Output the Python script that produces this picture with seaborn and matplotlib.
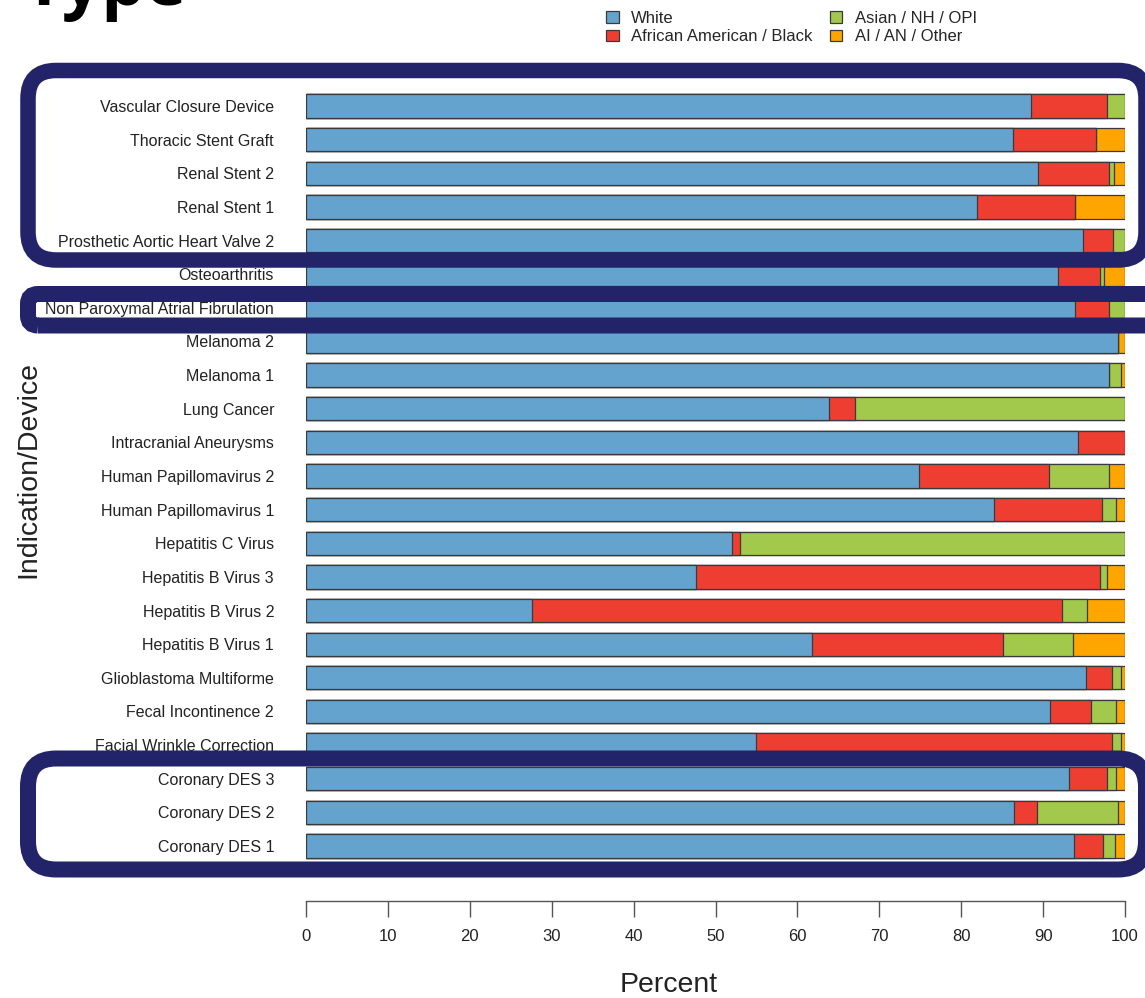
import matplotlib
matplotlib.use("Agg")
import matplotlib.pyplot as plt
import matplotlib.transforms as mtransforms
from matplotlib.patches import FancyBboxPatch, Patch
import numpy as np
import pandas as pd
import seaborn as sns

# Indication / device categories, top to bottom
categories = [
    "Vascular Closure Device", "Thoracic Stent Graft", "Renal Stent 2", "Renal Stent 1",
    "Prosthetic Aortic Heart Valve 2", "Osteoarthritis", "Non Paroxymal Atrial Fibrulation",
    "Melanoma 2", "Melanoma 1", "Lung Cancer", "Intracranial Aneurysms",
    "Human Papillomavirus 2", "Human Papillomavirus 1", "Hepatitis C Virus",
    "Hepatitis B Virus 3", "Hepatitis B Virus 2", "Hepatitis B Virus 1",
    "Glioblastoma Multiforme", "Fecal Incontinence 2", "Facial Wrinkle Correction",
    "Coronary DES 3", "Coronary DES 2", "Coronary DES 1",
]

# Percent of participants by race group
white = [88.5, 86.3, 89.4, 81.9, 94.9, 91.8, 93.9, 99.2, 98.0, 63.9, 94.3,
         74.8, 84.0, 52.0, 47.6, 27.6, 61.8, 95.2, 90.9, 54.9, 93.2, 86.5, 93.8]
black = [9.3, 10.1, 8.6, 12.0, 3.6, 5.2, 4.1, 0.0, 0.1, 3.1, 5.7,
         15.9, 13.2, 1.0, 49.4, 64.7, 23.3, 3.2, 5.0, 43.5, 4.6, 2.7, 3.5]
asian = [2.2, 0.0, 0.7, 0.0, 1.5, 0.4, 2.0, 0.0, 1.4, 33.0, 0.0,
         7.4, 1.7, 47.0, 0.8, 3.0, 8.5, 1.1, 3.0, 1.1, 1.1, 10.0, 1.5]
other = [0.0, 3.6, 1.3, 6.1, 0.0, 2.6, 0.0, 0.8, 0.5, 0.0, 0.0,
         1.9, 1.1, 0.0, 2.2, 4.7, 6.4, 0.5, 1.1, 0.5, 1.1, 0.8, 1.2]

groups = ["White", "African American / Black", "Asian / NH / OPI", "AI / AN / Other"]
colors = ["#65A3CF", "#EE3E32", "#A2C84C", "#FFA500"]
x_ticks = list(range(0, 101, 10))

W, H, DPI = 1145, 998, 100
sns.set_style("white")
plt.rcParams["font.family"] = ["Liberation Sans", "DejaVu Sans"]

fig = plt.figure(figsize=(W / DPI, H / DPI), dpi=DPI)
fig.patch.set_facecolor("white")

# axes box in pixel terms: x 306..1125, y (from top) 89.2..862.8
ax = fig.add_axes([306 / W, 1 - 862.8 / H, 819 / W, 773.6 / H])

df = pd.DataFrame({"category": categories})
cum = np.cumsum(np.array([white, black, asian, other]), axis=0)
for i in range(3, -1, -1):
    df["value"] = cum[i]
    sns.barplot(data=df, y="category", x="value", order=categories, orient="h",
                color=colors[i], saturation=1, width=0.69, errorbar=None,
                edgecolor="#3a3a3a", linewidth=0.9, ax=ax)

ax.set_xlim(0, 100)
ax.set_ylim(len(categories) - 0.5, -0.5)
for s in ["left", "top", "right"]:
    ax.spines[s].set_visible(False)
ax.spines["bottom"].set_position(("outward", 27.5))
ax.spines["bottom"].set_bounds(0, 100)
ax.spines["bottom"].set_color("#555555")
ax.spines["bottom"].set_linewidth(1.0)
ax.set_xticks(x_ticks)
ax.set_xticklabels([str(t) for t in x_ticks])
ax.tick_params(axis="x", bottom=True, direction="out", length=11.5, width=1.0,
               color="#555555", labelsize=12, pad=9, labelcolor="#222222")
ax.tick_params(axis="y", left=False, length=0, pad=23, labelsize=11.5,
               labelcolor="#222222")
ax.set_xlabel("Percent", fontsize=20.5, color="#222222", va="center")
ax.set_ylabel("Indication/Device", fontsize=20.5, color="#222222", va="center")
ax.xaxis.set_label_coords(0.443, -0.158)
ax.yaxis.set_label_coords(-0.339, 0.508)

handles = [Patch(facecolor=c, edgecolor="#3a3a3a", linewidth=0.9) for c in colors]
fig.legend(handles, groups, ncol=2, frameon=False, loc="upper left",
           bbox_to_anchor=(606 / W, 1 - 11 / H), fontsize=12, handlelength=0.75,
           handleheight=0.7, handletextpad=0.75, columnspacing=1.05, labelspacing=0.2,
           borderpad=0, borderaxespad=0)

# title fragment at the top edge
fig.text(24 / W, 1 - 5 / H, "Type", fontsize=50, fontweight="bold",
         family=["Open Sans", "DejaVu Sans"], va="baseline", ha="left", color="black")

# highlight outlines, in pixel coordinates (y measured from the top)
navy = "#232369"
pix = mtransforms.IdentityTransform()


def outline(x0, top, x1, bottom, lw_px, radius):
    p = FancyBboxPatch((x0, H - bottom), x1 - x0, bottom - top,
                       boxstyle=f"round,pad=0,rounding_size={radius}",
                       transform=pix, facecolor="none", edgecolor=navy,
                       linewidth=lw_px * 72 / DPI, zorder=10)
    fig.add_artist(p)


outline(28, 70.5, 1146, 260, 15.5, 28)
outline(28, 294, 1200, 325.5, 16, 10)
outline(28, 758.5, 1146, 869.5, 16, 28)

fig.savefig("out.png", dpi=DPI, facecolor="white")
